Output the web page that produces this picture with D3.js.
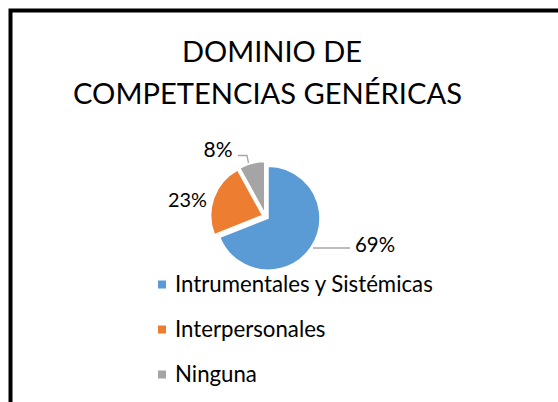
<!DOCTYPE html>
<html>
<head>
<meta charset="utf-8">
<script src="https://cdn.jsdelivr.net/npm/d3@7/dist/d3.min.js"></script>
<style>
  html, body { margin: 0; padding: 0; background: #fff; }
  svg { display: block; }
  text { font-family: Lato, "Open Sans", "Noto Sans", sans-serif; fill: #000; }
</style>
</head>
<body>
<svg id="chart" width="558" height="402"></svg>
<script>
// ---- data ----
const titleLines = ["DOMINIO DE", "COMPETENCIAS GENÉRICAS"];
const categories = ["Intrumentales y Sistémicas", "Interpersonales", "Ninguna"];
const values = [69, 23, 8];
const valueLabels = ["69%", "23%", "8%"];
const colors = ["#5B9BD5", "#ED7D31", "#A5A5A5"];

const svg = d3.select("#chart");
const W = 558, H = 402;

// background + border (chart area frame, cut by the window at right/bottom)
svg.append("rect").attr("x", 0).attr("y", 0).attr("width", W).attr("height", H).attr("fill", "#fff");
svg.append("rect")
  .attr("x", 10.5).attr("y", 10.5)
  .attr("width", 700).attr("height", 700)
  .attr("fill", "none").attr("stroke", "#000").attr("stroke-width", 4);

// helper: fit text to a target width by adjusting font size
function fitWidth(sel, target, base) {
  sel.style("font-size", base + "px");
  const w = sel.node().getComputedTextLength();
  if (w > 0) sel.style("font-size", (base * target / w) + "px");
  return sel;
}

// ---- title ----
const titleSpecs = [
  { cx: 272, y: 62, w: 180 },
  { cx: 267.5, y: 104, w: 389 }
];
titleLines.forEach((t, i) => {
  const s = titleSpecs[i];
  const el = svg.append("text")
    .attr("x", s.cx).attr("y", s.y)
    .attr("text-anchor", "middle")
    .text(t);
  fitWidth(el, s.w, 27);
});

// ---- pie ----
const cx = 265.5, cy = 216.5, r = 52, explode = 3;
const pie = d3.pie().sort(null).value(d => d).startAngle(0).endAngle(2 * Math.PI);
const arcs = pie(values);
const arc = d3.arc().innerRadius(0).outerRadius(r);

const g = svg.append("g").attr("transform", `translate(${cx},${cy})`);
g.selectAll("path.slice")
  .data(arcs)
  .join("path")
  .attr("class", "slice")
  .attr("d", arc)
  .attr("fill", (d, i) => colors[i])
  .attr("stroke", "#fff")
  .attr("stroke-width", 1.5)
  .attr("transform", d => {
    const m = (d.startAngle + d.endAngle) / 2;
    return `translate(${explode * Math.sin(m)},${-explode * Math.cos(m)})`;
  });

// ---- data labels with leader lines ----
const labelSpecs = [
  { x: 355, y: 252, anchor: "start", w: 40, leader: [[313, 248], [350, 248]] },
  { x: 187.5, y: 207, anchor: "middle", w: 39, leader: null },
  { x: 218, y: 157, anchor: "middle", w: 29, leader: [[238, 155.5], [247, 155.5], [248.5, 163]] }
];
const line = d3.line();
arcs.forEach((d, i) => {
  const s = labelSpecs[i];
  if (s.leader) {
    svg.append("path")
      .attr("d", line(s.leader))
      .attr("fill", "none")
      .attr("stroke", "#A6A6A6")
      .attr("stroke-width", 1.3);
  }
  const el = svg.append("text")
    .attr("x", s.x).attr("y", s.y)
    .attr("text-anchor", s.anchor)
    .text(valueLabels[i]);
  fitWidth(el, s.w, 21);
});

// ---- legend ----
const legendY = d3.scalePoint().domain(categories).range([285, 375]);
const leg = svg.append("g");
const items = leg.selectAll("g.item").data(categories).join("g")
  .attr("class", "item")
  .attr("transform", d => `translate(0,${legendY(d)})`);
items.append("rect")
  .attr("x", 158).attr("y", -4.5)
  .attr("width", 8).attr("height", 8)
  .attr("fill", (d, i) => colors[i]);
const legTexts = items.append("text")
  .attr("x", 175).attr("y", 7)
  .text(d => d);
// size legend font from first entry width
const first = legTexts.filter((d, i) => i === 0);
fitWidth(first, 258, 21);
const fs = first.style("font-size");
legTexts.style("font-size", fs);
</script>
</body>
</html>
